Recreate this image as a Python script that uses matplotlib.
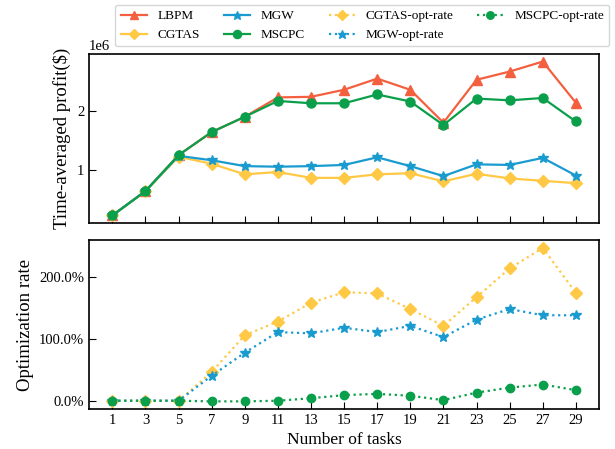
import matplotlib
matplotlib.use("Agg")
import matplotlib.pyplot as plt
from matplotlib.ticker import PercentFormatter

plt.rcParams["font.family"] = ["Liberation Serif", "DejaVu Serif"]
plt.rcParams["mathtext.fontset"] = "stix"

tasks = [1, 3, 5, 7, 9, 11, 13, 15, 17, 19, 21, 23, 25, 27, 29]

# time-averaged profit ($)
lbpm = [0.23e6, 0.645e6, 1.257e6, 1.65e6, 1.91e6, 2.24e6, 2.25e6, 2.37e6, 2.56e6, 2.37e6, 1.81e6, 2.54e6, 2.68e6, 2.85e6, 2.15e6]
cgtas = [0.23e6, 0.64e6, 1.23e6, 1.11e6, 0.93e6, 0.97e6, 0.87e6, 0.87e6, 0.93e6, 0.95e6, 0.81e6, 0.94e6, 0.86e6, 0.82e6, 0.78e6]
mgw = [0.23e6, 0.645e6, 1.245e6, 1.17e6, 1.07e6, 1.06e6, 1.07e6, 1.09e6, 1.22e6, 1.07e6, 0.90e6, 1.10e6, 1.09e6, 1.21e6, 0.91e6]
mscpc = [0.23e6, 0.645e6, 1.257e6, 1.65e6, 1.91e6, 2.18e6, 2.14e6, 2.14e6, 2.29e6, 2.17e6, 1.77e6, 2.22e6, 2.19e6, 2.23e6, 1.83e6]

# optimization rate (%)
cgtas_opt = [1, 1, 1, 47, 106, 128, 158, 175, 173, 148, 121, 167, 213, 246, 174]
mgw_opt = [1, 1, 1, 41, 78, 111, 109, 118, 111, 121, 103, 131, 148, 138, 138]
mscpc_opt = [1, 1, 1, 0, 0, 1, 5, 10, 12, 9, 2, 14, 22, 27, 18]

RED = "#F4603F"
YELLOW = "#FFC845"
BLUE = "#1A9BD0"
GREEN = "#0A9F4A"

fig = plt.figure(figsize=(6.15, 4.49), dpi=100)
ax1 = fig.add_axes([0.145, 0.503, 0.829, 0.377])
ax2 = fig.add_axes([0.145, 0.089, 0.829, 0.376])

lw = 1.6
ax1.plot(tasks, lbpm, color=RED, marker="^", markersize=7, linewidth=lw, label="LBPM")
ax1.plot(tasks, cgtas, color=YELLOW, marker="D", markersize=6, linewidth=lw, label="CGTAS")
ax1.plot(tasks, mgw, color=BLUE, marker="*", markersize=7, linewidth=lw, label="MGW")
ax1.plot(tasks, mscpc, color=GREEN, marker="o", markersize=6.5, linewidth=lw, label="MSCPC")

ax2.plot(tasks, cgtas_opt, color=YELLOW, marker="D", markersize=6, linewidth=lw, linestyle=":", label="CGTAS-opt-rate")
ax2.plot(tasks, mgw_opt, color=BLUE, marker="*", markersize=7, linewidth=lw, linestyle=":", label="MGW-opt-rate")
ax2.plot(tasks, mscpc_opt, color=GREEN, marker="o", markersize=6, linewidth=lw, linestyle=":", label="MSCPC-opt-rate")

for ax in (ax1, ax2):
    ax.set_xticks(tasks)
    ax.tick_params(direction="in", labelsize=10.5, length=5)
    for sp in ax.spines.values():
        sp.set_linewidth(1.2)

ax1.tick_params(labelbottom=False)
ax1.set_yticks([1e6, 2e6])
ax1.yaxis.get_offset_text().set_fontsize(10.5)
ax1.set_ylabel("Time-averaged profit($)", fontsize=13.5)

ax2.set_yticks([0, 100, 200])
ax2.yaxis.set_major_formatter(PercentFormatter(decimals=1))
ax2.set_ylabel("Optimization rate", fontsize=13.5)
ax2.set_xlabel("Number of tasks", fontsize=12.5)

h1, l1 = ax1.get_legend_handles_labels()
h2, l2 = ax2.get_legend_handles_labels()
fig.legend(h1 + h2, l1 + l2, ncol=4, loc="upper center", bbox_to_anchor=(0.589, 1.004),
           fontsize=9.5, handlelength=2.0, columnspacing=1.8, labelspacing=0.5,
           markerscale=0.9)

fig.savefig("out.png", dpi=100)
